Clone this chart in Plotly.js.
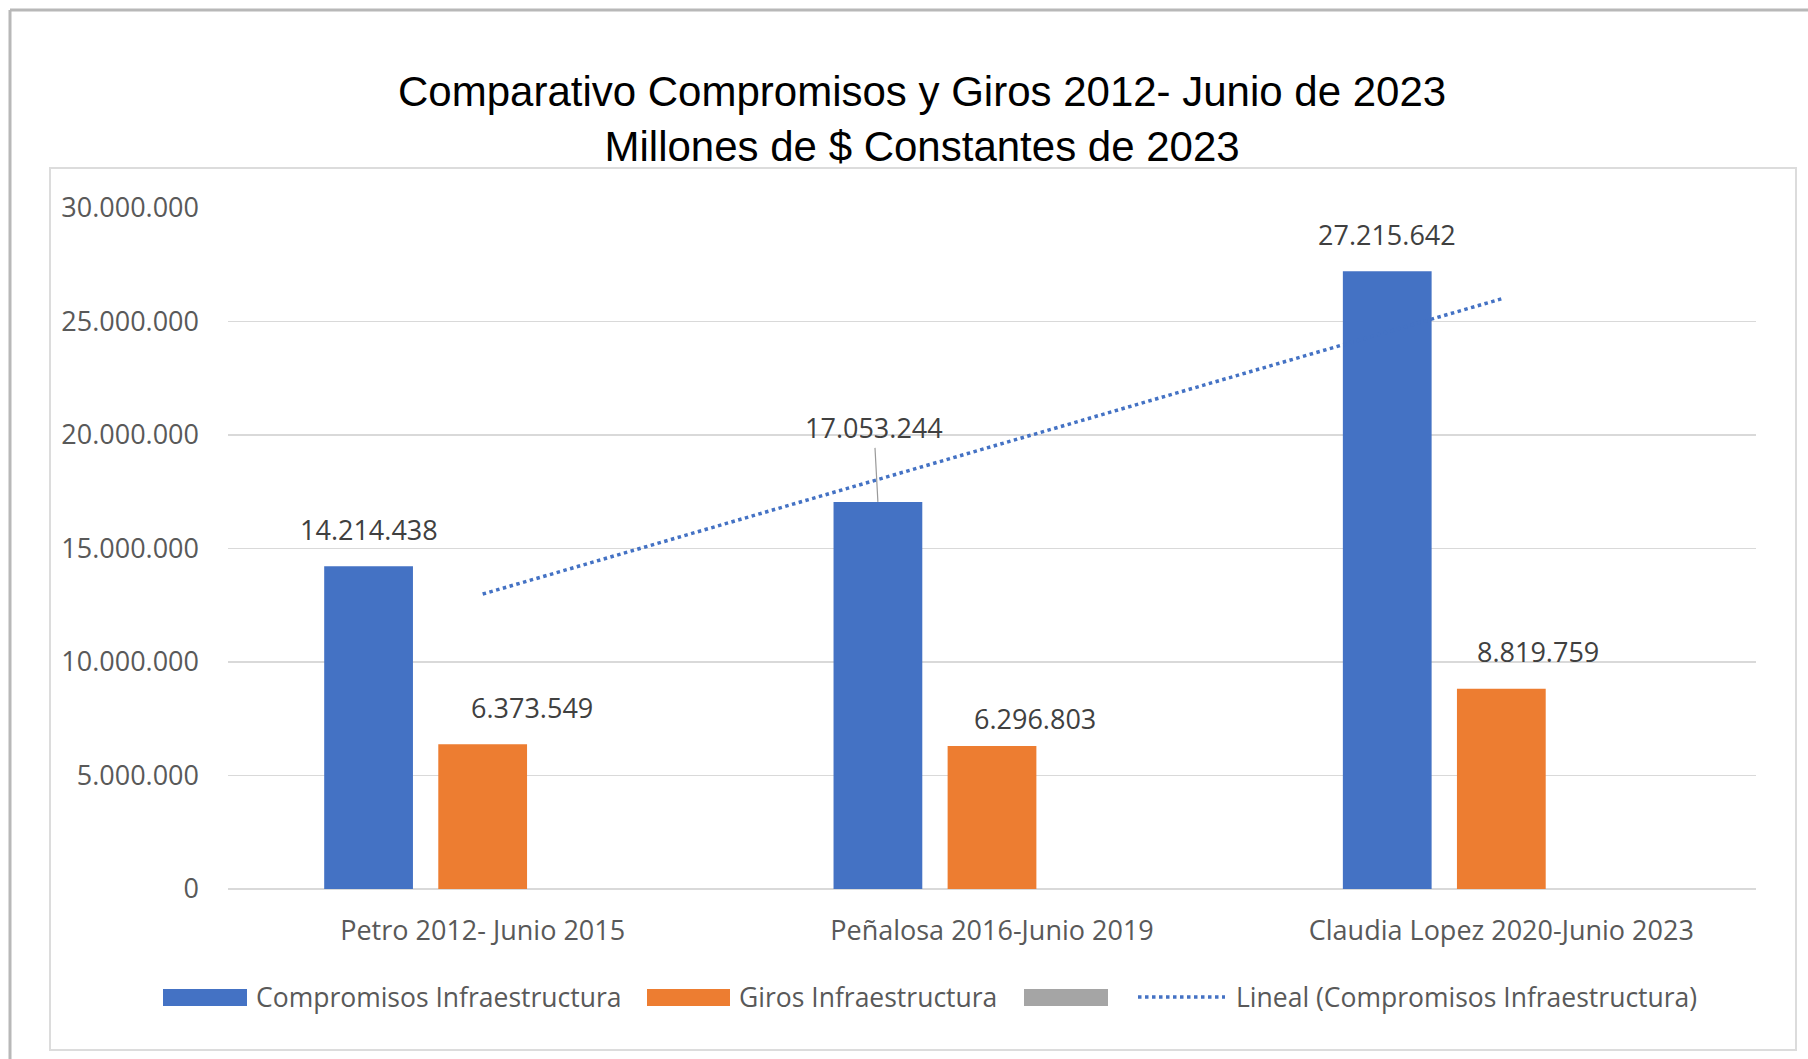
<!DOCTYPE html>
<html><head><meta charset="utf-8">
<script src="https://cdn.plot.ly/plotly-3.0.1.min.js"></script>
<style>html,body{margin:0;padding:0;background:#fff;overflow:hidden;} #chart{width:1808px;height:1059px;}</style>
</head><body><div id="chart"></div>
<script>
// ---- data ----
const categories = ['Petro 2012- Junio 2015', 'Peñalosa 2016-Junio 2019', 'Claudia Lopez 2020-Junio 2023'];
const compromisos = [14214438, 17053244, 27215642];
const giros = [6373549, 6296803, 8819759];
const serie3 = [0, 0, 0];
const tendencia = [12993839, 19494441, 25995043];
const yTickVals = [0, 5000000, 10000000, 15000000, 20000000, 25000000, 30000000];
const seriesNames = ['Compromisos Infraestructura', 'Giros Infraestructura', '', 'Lineal (Compromisos Infraestructura)'];

// ---- layout geometry (pixels) ----
const W = 1808, H = 1059;
const L = 228, R = 52, T = 208, B = 170;
const PW = W - L - R, PH = H - T - B;
const px = x => (x - L) / PW;
const py = y => (H - B - y) / PH;

const BLUE = '#4472C4', ORANGE = '#ED7D31', GRAY = '#A5A5A5';
const FONT = 'Open Sans, sans-serif';
const fmt = v => String(Math.round(v)).replace(/\B(?=(\d{3})+(?!\d))/g, '.');
const BLUE_OFF = -0.224; // blue bar offset within its group (category units)
// label placement tweaks (pixels) as moved by hand in the original
const girosLabelDx = [49, 43, 37];
const girosLabelDy = [16, 7, 17];

const traces = [
  {type: 'bar', x: categories, y: compromisos, name: seriesNames[0],
   marker: {color: BLUE}, showlegend: false},
  {type: 'bar', x: categories, y: giros, name: seriesNames[1],
   marker: {color: ORANGE}, showlegend: false},
  {type: 'bar', x: categories, y: serie3, name: seriesNames[2],
   marker: {color: GRAY, line: {width: 0}}, hoverinfo: 'skip', showlegend: false},
  {type: 'scatter', mode: 'lines', x: categories, y: tendencia, name: seriesNames[3],
   line: {color: BLUE, width: 3.5, dash: 'dot'}, showlegend: false}
];

// custom legend
const legY0 = py(989), legY1 = py(1006), legYc = py(997);
const shapes = [
  {type: 'line', xref: 'paper', yref: 'paper', x0: px(10), x1: px(1808), y0: py(10), y1: py(10), line: {color: '#b8b8b8', width: 3}, layer: 'below'},
  {type: 'line', xref: 'paper', yref: 'paper', x0: px(10), x1: px(10), y0: py(10), y1: py(1059), line: {color: '#b8b8b8', width: 3}, layer: 'below'},
  {type: 'rect', xref: 'paper', yref: 'paper', x0: px(50), x1: px(1796), y0: py(168), y1: py(1050), line: {color: '#dcdcdc', width: 2}, layer: 'below'},
  {type: 'rect', xref: 'paper', yref: 'paper', x0: px(163), x1: px(247), y0: legY0, y1: legY1, fillcolor: BLUE, line: {width: 0}},
  {type: 'rect', xref: 'paper', yref: 'paper', x0: px(647), x1: px(730), y0: legY0, y1: legY1, fillcolor: ORANGE, line: {width: 0}},
  {type: 'rect', xref: 'paper', yref: 'paper', x0: px(1024), x1: px(1108), y0: legY0, y1: legY1, fillcolor: GRAY, line: {width: 0}},
  {type: 'line', xref: 'paper', yref: 'paper', x0: px(1138), x1: px(1225), y0: legYc, y1: legYc, line: {color: BLUE, width: 3.5, dash: 'dot'}}
];

const legFont = {family: FONT, size: 26.5, color: '#595959'};
const labFont = {family: FONT, size: 27, color: '#404040'};
const annotations = [
  {xref: 'paper', yref: 'paper', x: px(254), y: legYc, xanchor: 'left', yanchor: 'middle', text: seriesNames[0], showarrow: false, font: legFont},
  {xref: 'paper', yref: 'paper', x: px(737), y: legYc, xanchor: 'left', yanchor: 'middle', text: seriesNames[1], showarrow: false, font: legFont},
  {xref: 'paper', yref: 'paper', x: px(1234), y: legYc, xanchor: 'left', yanchor: 'middle', text: seriesNames[3], showarrow: false, font: legFont}
];
// data labels
compromisos.forEach((v, i) => {
  if (i === 1) {
    annotations.push({xref: 'x', yref: 'y', x: i + BLUE_OFF, y: v, text: fmt(v),
      showarrow: true, arrowhead: 0, arrowwidth: 1.2, arrowcolor: '#9a9a9a', ax: -4, ay: -74, standoff: 0, font: labFont});
  } else {
    annotations.push({xref: 'x', yref: 'y', x: i + BLUE_OFF, y: v, text: fmt(v), showarrow: false,
      yanchor: 'bottom', yshift: 16, font: labFont});
  }
});
giros.forEach((v, i) => {
  annotations.push({xref: 'x', yref: 'y', x: i, y: v, text: fmt(v), showarrow: false,
    yanchor: 'bottom', yshift: girosLabelDy[i], xshift: girosLabelDx[i], font: labFont});
});

const layout = {
  width: W, height: H,
  paper_bgcolor: 'rgba(0,0,0,0)', plot_bgcolor: 'rgba(0,0,0,0)',
  margin: {l: L, r: R, t: T, b: B, pad: 0},
  separators: ',.',
  title: {text: 'Comparativo Compromisos y Giros 2012- Junio de 2023<br>Millones de $ Constantes de 2023',
          font: {family: 'Liberation Sans, Arial, sans-serif', size: 42, color: '#000'},
          x: 0.510, xref: 'container', xanchor: 'center', y: 1 - 106 / H, yref: 'container', yanchor: 'middle'},
  barmode: 'group', bargap: 0.328, bargroupgap: 0.222,
  xaxis: {type: 'category', showgrid: false, zeroline: false, showline: false, ticks: '',
          tickfont: {family: FONT, size: 27, color: '#595959'}, ticklabelstandoff: 23, fixedrange: true},
  yaxis: {range: [0, 30000000], tickvals: yTickVals, tickformat: ',.0f', showgrid: true,
          gridcolor: '#d9d9d9', gridwidth: 1.5, zeroline: true, zerolinecolor: '#d9d9d9', zerolinewidth: 1.5,
          showline: false, ticks: '', ticklabelstandoff: 28,
          tickfont: {family: FONT, size: 27, color: '#595959'}, fixedrange: true},
  showlegend: false,
  shapes: shapes,
  annotations: annotations
};

Plotly.newPlot('chart', traces, layout, {displayModeBar: false, staticPlot: true});
</script>
</body></html>
